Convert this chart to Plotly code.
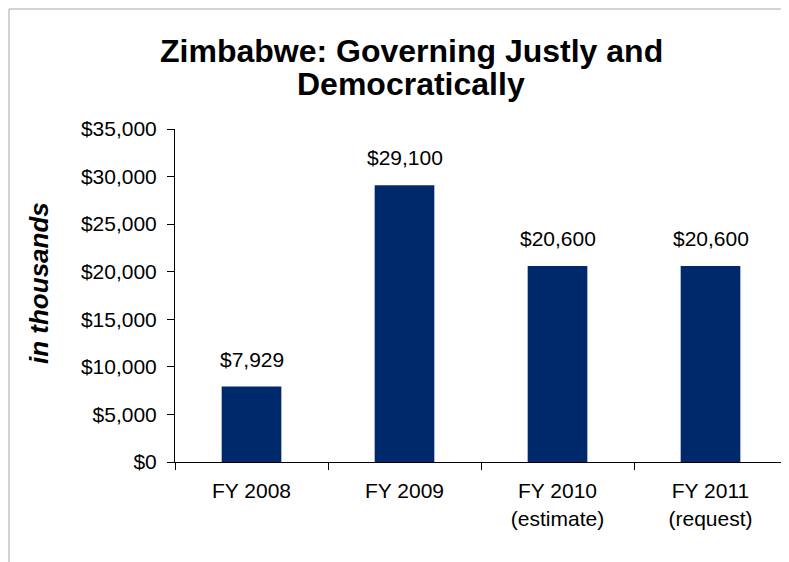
import plotly.graph_objects as go

categories = ["FY 2008", "FY 2009", "FY 2010<br>(estimate)", "FY 2011<br>(request)"]
values = [7929, 29100, 20600, 20600]
y_tick_values = [0, 5000, 10000, 15000, 20000, 25000, 30000, 35000]
y_tick_labels = ["$0", "$5,000", "$10,000", "$15,000", "$20,000", "$25,000", "$30,000", "$35,000"]
title_lines = ["Zimbabwe: Governing Justly and", "Democratically"]
y_title = "in thousands"

FONT = "Liberation Sans, Arial, sans-serif"
BAR_COLOR = "#00296B"

W, H = 789, 562
L, R, T, B = 167, 10, 121, 108
PW = W - L - R
PH = H - T - B


def px_x(px):
    return (px - L) / PW


def px_y(py):
    return (H - B - py) / PH


fig = go.Figure()
fig.add_trace(go.Bar(
    x=categories, y=values, width=0.39,
    marker=dict(color=BAR_COLOR, line=dict(width=0)),
    hoverinfo="skip",
))

annotations = []
for c, v in zip(categories, values):
    annotations.append(dict(
        x=c, y=v, xref="x", yref="y", text="$" + f"{v:,}",
        showarrow=False, yanchor="bottom", yshift=14,
        font=dict(family=FONT, size=21, color="black"),
    ))

for line, py in zip(title_lines, [43, 76]):
    annotations.append(dict(
        x=px_x(403), y=px_y(py), xref="paper", yref="paper", text=line,
        showarrow=False, xanchor="center", yanchor="middle",
        font=dict(family=FONT, size=32, color="black", weight="bold"),
    ))

annotations.append(dict(
    x=px_x(31), y=px_y(275), xref="paper", yref="paper", text=y_title,
    showarrow=False, xanchor="center", yanchor="middle", textangle=-90,
    font=dict(family=FONT, size=26, color="black", weight="bold", style="italic"),
))

border = dict(color="#c4c4c4", width=1.5)

fig.update_layout(
    width=W, height=H,
    margin=dict(l=L, r=R, t=T, b=B, pad=0),
    paper_bgcolor="white", plot_bgcolor="white",
    showlegend=False,
    annotations=annotations,
    shapes=[
        dict(type="line", xref="paper", yref="paper",
             x0=px_x(1), x1=px_x(W), y0=px_y(1), y1=px_y(1), line=border, layer="below"),
        dict(type="line", xref="paper", yref="paper",
             x0=px_x(1), x1=px_x(1), y0=px_y(1), y1=px_y(H), line=border, layer="below"),
    ],
    xaxis=dict(
        type="category", showline=True, linecolor="black", linewidth=1,
        ticks="outside", tickson="boundaries", ticklen=7, tickcolor="black",
        showgrid=False, zeroline=False, ticklabelstandoff=10,
        tickfont=dict(family=FONT, size=21, color="black"),
        fixedrange=True,
    ),
    yaxis=dict(
        range=[0, 35000], tickvals=y_tick_values, ticktext=y_tick_labels,
        showline=True, linecolor="black", linewidth=1,
        ticks="outside", ticklen=7, tickcolor="black",
        showgrid=False, zeroline=False, ticklabelstandoff=6,
        tickfont=dict(family=FONT, size=21, color="black"),
        fixedrange=True,
    ),
)

fig.write_html("out.html", post_script="document.body.style.overflow='hidden';")
